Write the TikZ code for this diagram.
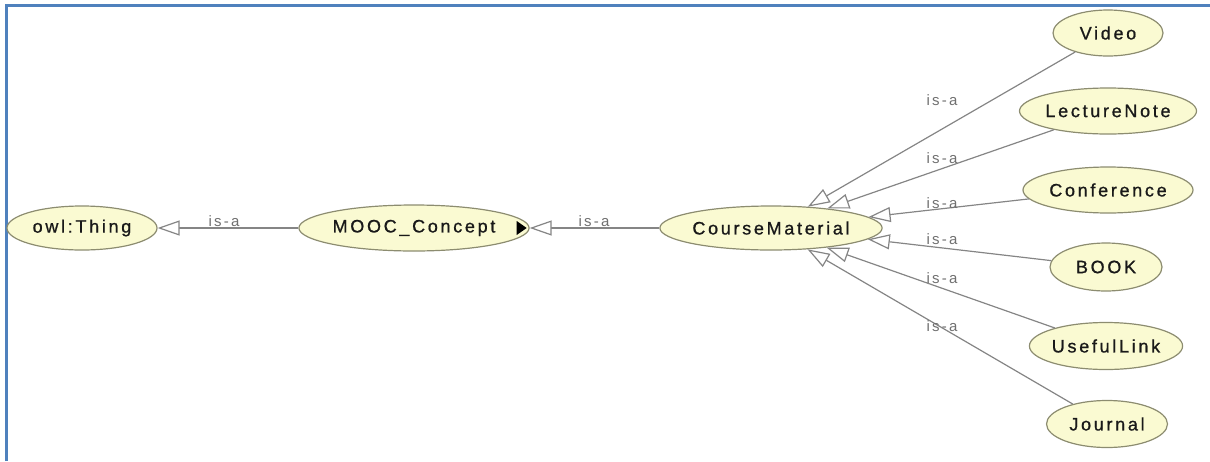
\documentclass[tikz,border=0pt]{standalone}
\usepackage{fontspec}
\setmainfont{Liberation Sans}
\newfontfamily\nodefont[LetterSpace=15,FakeBold=0.9]{Liberation Sans}
\newfontfamily\lblfont[LetterSpace=15]{Liberation Sans}
\usetikzlibrary{arrows.meta,shapes.geometric}
\definecolor{frameblue}{HTML}{4F81BD}
\definecolor{nodefill}{HTML}{FAFAD2}
\definecolor{nodeedge}{HTML}{8C8C70}
\definecolor{edgegray}{HTML}{858585}
\definecolor{lblgray}{HTML}{707070}
\begin{document}
\begin{tikzpicture}[x=1pt,y=-1pt,
  cls/.style={ellipse, draw=nodeedge, fill=nodefill, line width=1.2pt, inner sep=0pt,
    font=\nodefont\fontsize{18}{20}\selectfont, text=black!90},
  isa/.style={draw=edgegray, line width=1.2pt,
    -{Triangle[open, length=22pt, width=15pt, fill=white]}},
  lbl/.style={font=\lblfont\fontsize{15}{17}\selectfont, text=lblgray, inner sep=0pt}]
\useasboundingbox (0,0) rectangle (1210,461);
\draw[frameblue, line width=2.5pt] (6.5,461) -- (6.5,5.5) -- (1210,5.5);

\node[cls, minimum width=150pt, minimum height=44pt] (thing) at (82,228) {owl:Thing};
\node[cls, minimum width=218pt, minimum height=46pt] (mooc) at (414,228) {MOOC\_Concept};
\node[cls, minimum width=203pt, minimum height=44pt] (cm) at (771,228) {CourseMaterial};
\node[cls, minimum width=110pt, minimum height=46pt] (video) at (1108,33) {Video};
\node[cls, minimum width=177pt, minimum height=46pt] (lecture) at (1108,111) {LectureNote};
\node[cls, minimum width=170pt, minimum height=46pt] (conf) at (1108,190) {Conference};
\node[cls, minimum width=112pt, minimum height=48pt] (book) at (1106,267) {BOOK};
\node[cls, minimum width=152pt, minimum height=47pt] (link) at (1106,346) {UsefulLink};
\node[cls, minimum width=121pt, minimum height=47pt] (journal) at (1107,424) {Journal};

\fill (mooc.east) ++(-13,-7) -- ++(10,7) -- ++(-10,7) -- cycle;

\draw[isa] (mooc) -- (thing);
\draw[isa] (cm) -- (mooc);
\draw[isa] (video) -- (cm);
\draw[isa] (lecture) -- (cm);
\draw[isa] (conf) -- (cm);
\draw[isa] (book) -- (cm);
\draw[isa] (link) -- (cm);
\draw[isa] (journal) -- (cm);

\node[lbl] (l1) at (224,221) {is-a};
\node[lbl] (l2) at (594,221) {is-a};
\node[lbl] (l3) at (942,100) {is-a};
\node[lbl] (l4) at (942,158) {is-a};
\node[lbl] (l5) at (942,203) {is-a};
\node[lbl] (l6) at (942,239) {is-a};
\node[lbl] (l7) at (942,278) {is-a};
\node[lbl] (l8) at (942,326) {is-a};
\end{tikzpicture}
\end{document}
